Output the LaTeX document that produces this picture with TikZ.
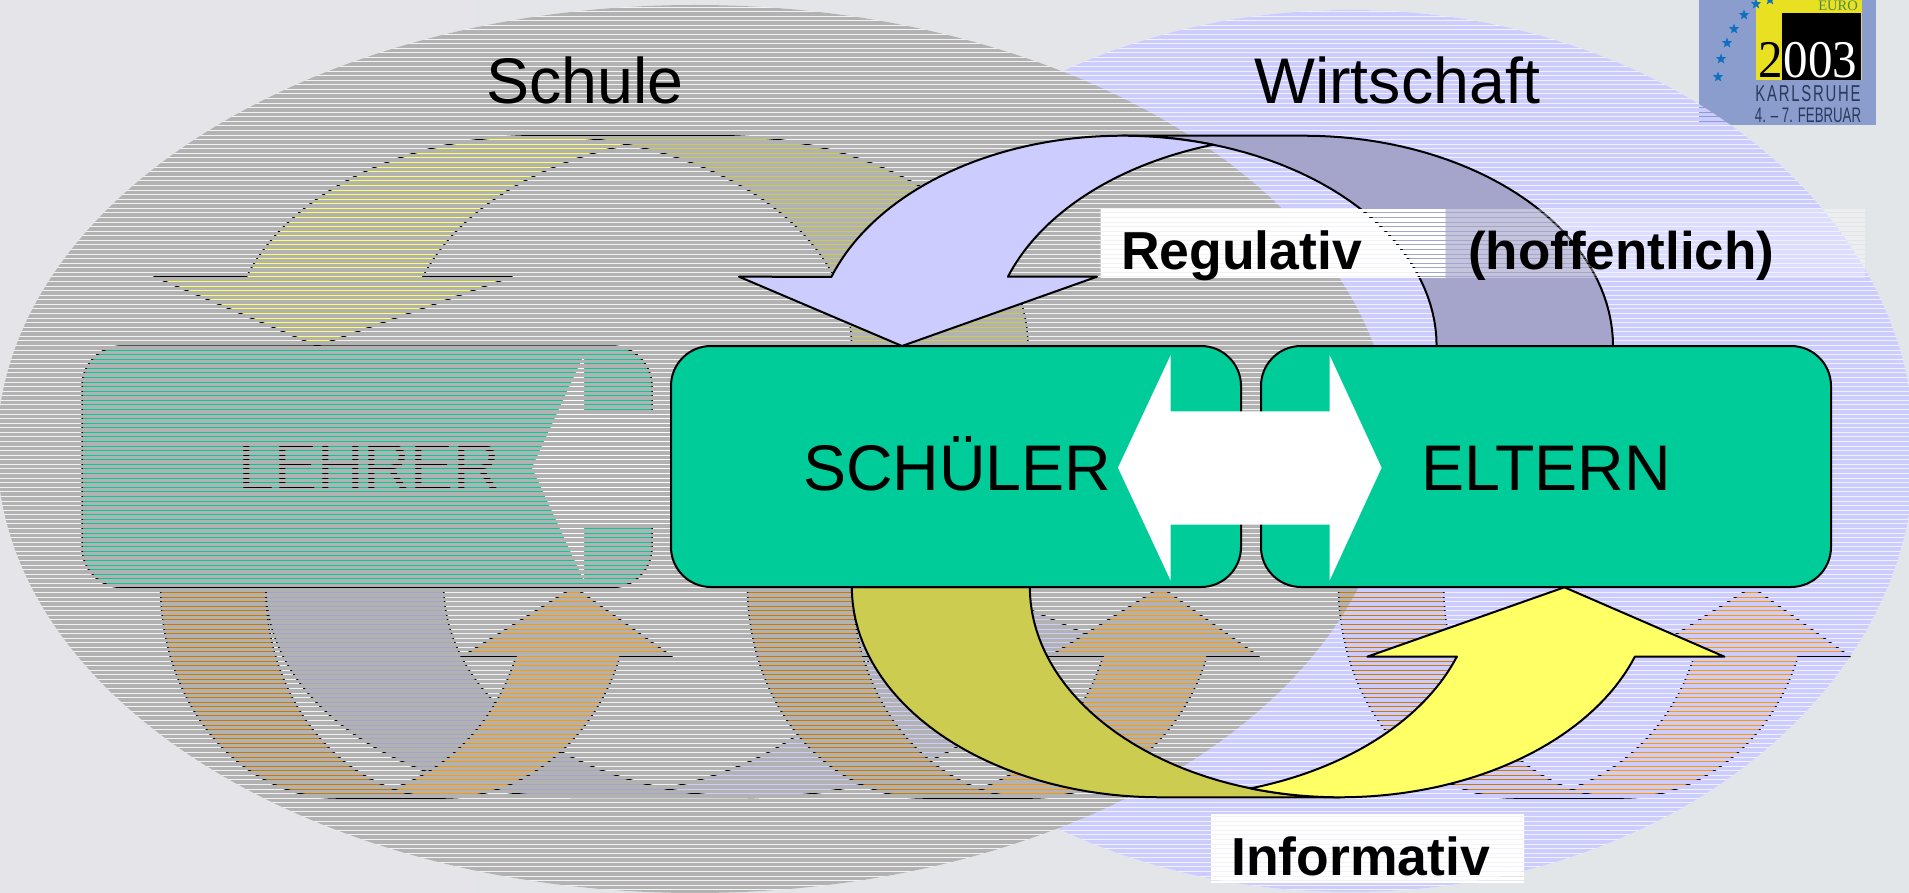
\documentclass[tikz,border=0pt]{standalone}
\usepackage{fontspec}
\usepackage{graphicx}
\setmainfont{Liberation Sans}
\newfontfamily\serifface{Liberation Serif}
\newfontfamily\logofont[LetterSpace=12]{Liberation Sans}
\usetikzlibrary{shapes.geometric}
\definecolor{teal1}{HTML}{00CC99}
\definecolor{lav}{HTML}{CCCCFF}
\definecolor{lavd}{HTML}{A5A5CC}
\definecolor{yel}{HTML}{FFFF66}
\definecolor{yeld}{HTML}{CCCC50}
\definecolor{ora}{HTML}{FF9900}
\definecolor{orad}{HTML}{CC7A00}
\definecolor{stripegray}{HTML}{B2B2B2}
\definecolor{logoblue}{HTML}{8A9DCC}
\definecolor{logoyel}{HTML}{E8E020}
\definecolor{logonavy}{HTML}{2A3A5E}
\definecolor{logostar}{HTML}{1070C0}
\definecolor{logogreen}{HTML}{4E8A50}
\newcommand\arcto[6]{-- plot[domain=#5:#6,samples=40] ({#1+#3*cos(\x)},{#2-#4*sin(\x)})}
\newcommand\barsp[2]{\foreach \i in {-61,...,136}{(#1,{floor(276.9+\i*4.5735)+1.2}) rectangle (#2,{floor(276.9+(\i+1)*4.5735)-.2})}}
% arrow curving down (tip at lower left), shifted by #1
\newcommand\bigdown[4]{\begin{scope}[xshift=#1pt,line width=#4,line join=round]
 \draw[fill=#2] (1436.6,346) \arcto{1122}{346}{314.6}{210.3}{0}{90} -- (1304,135.7) \arcto{1304}{346}{309}{210.3}{90}{0} -- cycle;
 \draw[fill=#3] (1008,276.7) \arcto{1304}{346}{313.6}{210.3}{160.8}{106.9} \arcto{1122}{346}{314.6}{210.3}{73.1}{90} \arcto{1122}{346}{307.7}{210.3}{90}{160.8} -- (739,276.7) -- (902,346) -- (1097,276.7) -- cycle;
\end{scope}}
% arrow curving up (tip at upper right), shifted by #1
\newcommand\bigup[4]{\begin{scope}[xshift=#1pt,line width=#4,line join=round]
 \draw[fill=#2] (851.8,587) \arcto{1160}{587}{308.2}{210.3}{180}{270} -- (1340,797.3) \arcto{1340}{587}{310.2}{210.3}{270}{180} -- cycle;
 \draw[fill=#3] (1457,656.7) \arcto{1160}{587}{314.6}{210.3}{-19.3}{-73.26} \arcto{1340}{587}{310.2}{210.3}{-106.75}{-90} \arcto{1340}{587}{312.5}{210.3}{-90}{-19.3} -- (1724.4,656.7) -- (1564.4,587.3) -- (1367.3,656.7) -- cycle;
\end{scope}}
% narrow orange arrow, shifted by #1
\newcommand\oraup[1]{\begin{scope}[xshift=#1pt,line width=1.5,line join=round]
 \draw[fill=orad] (160.5,587) \arcto{336}{587}{175.5}{211}{180}{270} -- (445,798) \arcto{445}{587}{179.3}{211}{270}{180} -- cycle;
 \draw[fill=ora] (516,656.5) \arcto{336}{587}{190.7}{211}{-19.2}{-72.86} \arcto{445}{587}{179.3}{211}{-107.14}{-90} \arcto{445}{587}{185.4}{211}{-90}{-19.2} -- (672,656.5) -- (574,587) -- (462,656.5) -- cycle;
\end{scope}}
\begin{document}
\begin{tikzpicture}[x=1pt,y=-1pt,
  boxstyle/.style={draw=black,line width=2,fill=teal1,rounded corners=40},
  bigtext/.style={anchor=base west,inner sep=0,font=\fontsize{64.5}{70}\selectfont},
  boldtext/.style={anchor=base west,inner sep=0,font=\fontsize{53.5}{60}\selectfont\bfseries},
  logotext/.style={anchor=base,inner sep=0}]
\useasboundingbox (0,0) rectangle (1909,893);
\clip (0,0) rectangle (1909,893);
% background
\fill[left color={rgb,255:red,228;green,228;blue,233},right color={rgb,255:red,226;green,230;blue,233}] (0,0) rectangle (1909,893);
% pale under-layers of the two ellipses
\fill[fill={rgb,255:red,242;green,242;blue,255}] (1350,451) ellipse [x radius=565,y radius=441];
\fill[fill={rgb,255:red,242;green,242;blue,242}] (695,449) ellipse [x radius=698,y radius=444];
% logo
\fill[logoblue] (1699,0) rectangle (1876,125);
\fill[logoyel] (1756,0) rectangle (1862,80);
\fill[black] (1782,12.7) rectangle (1861,80);
\foreach \p [count=\n] in {(1770,0),(1756,4),(1744,15),(1734,29),(1727,43),(1721,59),(1718,77)}
  \node[star,star points=5,star point ratio=2.4,fill=logostar,minimum size=11,inner sep=0] (st\n) at \p {};
\node[logotext,text=logogreen,font=\serifface\fontsize{14.5}{16}\selectfont] (euro) at (1838,10.5) {EURO};
\node[logotext,font=\serifface\fontsize{53}{56}\selectfont] (year) at (1808,78) {\scalebox{.925}[1]{\textcolor{black}{2}\textcolor{white}{003}}};
\node[logotext,text=logonavy,font=\logofont\fontsize{23}{25}\selectfont] (karls) at (1808,101.7) {\scalebox{.647}[1]{KARLSRUHE}};
\node[logotext,text=logonavy,font=\fontsize{21}{23}\selectfont] (feb) at (1808,123) {\scalebox{.63}[1]{4. – 7. FEBRUAR}};
% hidden scene, seen through the gaps
\bigup{-586}{lavd}{lav}{1.5}
\oraup{0}
\oraup{587}
\oraup{1178}
\bigdown{-585}{yeld}{yel}{1.5}
\draw[line width=1.5,fill=teal1,rounded corners=40] (82,346) rectangle (652,587.5);
\fill[white] (532,467.7) -- (584,355) -- (584,411) -- (700,411) -- (700,525) -- (584,525) -- (584,581) -- cycle;
\node[bigtext] (lehrer) at (238,488) {LEHRER};
% stripes
\begin{scope}
 \clip (1350,451) ellipse [x radius=565,y radius=441];
 \fill[lav] \barsp{0}{1909};
\end{scope}
\begin{scope}
 \clip (695,449) ellipse [x radius=698,y radius=444];
 \fill[stripegray] \barsp{0}{1909};
\end{scope}
% titles
\node[bigtext] (schule) at (486,104) {Schule};
\node[bigtext] (wirt) at (1254,104) {Wirtschaft};
% visible arrows
\bigdown{0}{lavd}{lav}{2}
\bigup{0}{yeld}{yel}{2}
% label panels
\begin{scope}
 \clip (1100.6,208.7) rectangle (1445.6,277.3);
 \fill[white] \barsp{0}{1909};
\end{scope}
\begin{scope}
 \clip (1445.6,208.7) rectangle (1865,277.3);
 \fill[white,opacity=.35] \barsp{0}{1909};
\end{scope}
\begin{scope}
 \clip (1211,814) rectangle (1524,882.7);
 \fill[white] \barsp{0}{1909};
\end{scope}
\node[boldtext] (regulativ) at (1121,269.3) {Regulativ};
\node[boldtext,font=\fontsize{53}{60}\selectfont\bfseries] (hoff) at (1468,269.3) {(hoffentlich)};
\node[boldtext] (informativ) at (1231,875) {Informativ};
% main boxes
\draw[boxstyle] (671,346) rectangle (1241,587);
\draw[boxstyle] (1261,346) rectangle (1831,587);
\fill[white] (1118,467.7) -- (1170.7,355) -- (1170.7,411.3) -- (1329.5,411.3) -- (1329.5,355) -- (1381.6,467.7) -- (1329.5,580.7) -- (1329.5,524.7) -- (1170.7,524.7) -- (1170.7,580.7) -- cycle;
\node[bigtext] (schueler) at (803,490.7) {SCHÜLER};
\node[bigtext] (eltern) at (1421,490.7) {ELTERN};
\end{tikzpicture}
\end{document}
